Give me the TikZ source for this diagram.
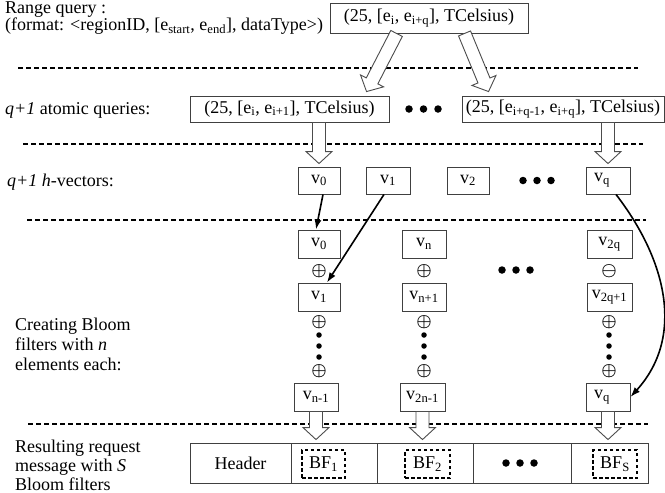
\documentclass[tikz,border=0pt]{standalone}
\usepackage{fontspec}
\setmainfont{Liberation Serif}
\usetikzlibrary{calc,arrows.meta}
\newcommand{\sbt}[1]{\textsubscript{#1}}
\newcommand{\blockarr}[2]{%
  \coordinate (hbA) at (#1);
  \coordinate (hbB) at (#2);
  \coordinate (hbH) at ($(hbB)!12pt!(hbA)$);
  \draw[hollowarr] ($(hbA)!6.5pt!90:(hbB)$) -- ($(hbH)!6.5pt!90:(hbB)$) -- ($(hbH)!13pt!90:(hbB)$) -- (hbB)
     -- ($(hbH)!13pt!-90:(hbB)$) -- ($(hbH)!6.5pt!-90:(hbB)$) -- ($(hbA)!6.5pt!-90:(hbB)$) -- cycle;}
\begin{document}
\begin{tikzpicture}[x=1pt,y=-1pt,
  font=\fontsize{18}{20}\selectfont,
  box/.style={draw=black!75,line width=0.9pt,inner sep=0pt,minimum height=26pt},
  vbox/.style={box,minimum width=42pt,minimum height=28pt},
  bfbox/.style={draw=black,line width=1.4pt,dash pattern=on 3.5pt off 2.5pt,inner sep=0pt,minimum width=43pt,minimum height=28pt},
  cell/.style={draw=black!75,line width=0.9pt,inner sep=0pt,minimum height=40pt},
  sep/.style={draw=black,line width=1.3pt,dash pattern=on 5pt off 3pt},
  hollowarr/.style={draw=black!70,line width=0.9pt,fill=white},
  blk/.style={draw=black,line width=1.6pt,-{Latex[length=10pt,width=7pt]}},
  bigdot/.style={circle,fill=black,inner sep=0pt,minimum size=7.5pt},
  smalldot/.style={circle,fill=black,inner sep=0pt,minimum size=5.5pt},
  opsym/.style={inner sep=0pt,font=\fontsize{17}{17}\selectfont\boldmath},
  lbl/.style={anchor=base west,inner sep=0pt}
]
\useasboundingbox (0,0) rectangle (665,493);
\fill[white] (0,0) rectangle (665,493);

% left labels
\node[lbl] (l1) at (5,13) {Range query :};
\node[lbl] (l2) at (5,30.5) {(format: <regionID, [e\sbt{start}, e\sbt{end}], dataType>)};
\node[lbl] (l3) at (5,114) {\textit{q+1} atomic queries:};
\node[lbl] (l4) at (7,186) {\textit{q+1 h}-vectors:};
\node[lbl] (l5) at (15,330) {Creating Bloom};
\node[lbl] (l6) at (15,350) {filters with \textit{n}};
\node[lbl] (l7) at (15,370) {elements each:};
\node[lbl] (l8) at (15,452) {Resulting request};
\node[lbl] (l9) at (15,471) {message with \textit{S}};
\node[lbl] (l10) at (15,490) {Bloom filters};

% separators
\draw[sep] (18,68) -- (638,68);
\draw[sep] (23,144) -- (643,144);
\draw[sep] (27,220) -- (646,220);
\draw[sep] (28,424) -- (648,424);

% range query
\node[box,minimum width=198pt,minimum height=30pt] (top) at (429,18) {(25, [e\sbt{i}, e\sbt{i+q}], TCelsius)};

% atomic queries
\node[box,minimum width=199pt] (atom1) at (289.5,109) {(25, [e\sbt{i}, e\sbt{i+1}], TCelsius)};
\node[box,minimum width=202pt] (atom2) at (563,109) {(25, [e\sbt{i+q-1}, e\sbt{i+q}], TCelsius)};
\node[bigdot] (ad1) at (409,109) {};
\node[bigdot] (ad2) at (423.5,109) {};
\node[bigdot] (ad3) at (438,109) {};

% h-vectors
\node[vbox,minimum height=27pt] (v0h) at (319,180.5) {v\sbt{0}};
\node[vbox,minimum height=27pt,minimum width=44pt] (v1h) at (388,180.5) {v\sbt{1}};
\node[vbox,minimum height=27pt] (v2h) at (468,180.5) {v\sbt{2}};
\node[vbox,minimum height=27pt,minimum width=44pt] (vqh) at (608,180.5) {v\sbt{q}\hspace*{12pt}};
\node[bigdot] (hd1) at (523,180.5) {};
\node[bigdot] (hd2) at (537,180.5) {};
\node[bigdot] (hd3) at (551,180.5) {};

% Bloom filter columns
\node[vbox] (c1a) at (319,244) {v\sbt{0}};
\node[vbox] (c1b) at (319,297) {v\sbt{1}};
\node[vbox,minimum width=44pt] (c1c) at (316,397) {v\sbt{n-1}};
\node[vbox,minimum width=44pt] (c2a) at (424,244) {v\sbt{n}};
\node[vbox,minimum width=44pt] (c2b) at (424,297) {v\sbt{n+1}};
\node[vbox,minimum width=45pt] (c2c) at (422.5,397) {v\sbt{2n-1}};
\node[vbox,minimum width=45pt] (c3a) at (609.5,244) {v\sbt{2q}};
\node[vbox,minimum width=45pt] (c3b) at (609.5,297) {v\sbt{2q+1}};
\node[vbox,minimum width=44pt] (c3c) at (608,397) {v\sbt{q}\hspace*{12pt}};

\foreach \cx/\nm/\first in {319/p1/$\oplus$, 424/p2/$\oplus$, 609/p3/$\ominus$}{
  \node[opsym] (\nm a) at (\cx,271) {\first};
  \node[opsym] (\nm b) at (\cx,322) {$\oplus$};
  \node[smalldot] (\nm d1) at (\cx,335) {};
  \node[smalldot] (\nm d2) at (\cx,346) {};
  \node[smalldot] (\nm d3) at (\cx,357) {};
  \node[opsym] (\nm c) at (\cx,371) {$\oplus$};
}
\node[bigdot] (md1) at (502,270) {};
\node[bigdot] (md2) at (516,270) {};
\node[bigdot] (md3) at (530,270) {};

% request message
\node[cell,minimum width=101pt] (hdr) at (240.5,463) {Header};
\node[cell,minimum width=86pt] (cbf1) at (334,463) {};
\node[cell,minimum width=96pt] (cbf2) at (425,463) {};
\node[cell,minimum width=98pt] (cdot) at (522,463) {};
\node[cell,minimum width=77pt] (cbfs) at (609.5,463) {};
\node[bfbox] (bf1) at (323.5,464) {BF\sbt{1}};
\node[bfbox,minimum width=45pt] (bf2) at (427.5,464) {BF\sbt{2}};
\node[bfbox,minimum width=44pt] (bfs) at (615,464) {BF\sbt{S}};
\node[bigdot] (bd1) at (506,463) {};
\node[bigdot] (bd2) at (520,463) {};
\node[bigdot] (bd3) at (534,463) {};

% hollow arrows
\coordinate (t1s) at ($(top.south west)+(67,0)$);
\coordinate (t1e) at ($(atom1.north west)+(177,-4)$);
\coordinate (t2s) at ($(top.south west)+(135,0)$);
\coordinate (t2e) at ($(atom2.north west)+(27,-4)$);
\blockarr{t1s}{t1e}
\blockarr{t2s}{t2e}
\coordinate (a1e) at ($(v0h.north)+(0,-3)$);
\coordinate (a2e) at ($(vqh.north)+(0,-3)$);
\blockarr{v0h |- atom1.south}{a1e}
\blockarr{vqh |- atom2.south}{a2e}
\coordinate (b1e) at ($(c1c.south |- hdr.north)+(0,-3)$);
\coordinate (b2e) at ($(c2c.south |- hdr.north)+(0,-3)$);
\coordinate (b3e) at ($(c3c.south |- hdr.north)+(0,-3)$);
\blockarr{c1c.south}{b1e}
\blockarr{c2c.south}{b2e}
\blockarr{c3c.south}{b3e}

% black arrows
\draw[blk] ($(v0h.south)+(4,0)$) -- ($(c1a.north)+(-3,0)$);
\draw[blk] ($(v1h.south)+(-4,0)$) -- ($(c1b.north)+(8,0)$);
\draw[blk] ($(vqh.south)+(8,0)$) .. controls (668,262) and (684,338) .. (c3c.east);
\end{tikzpicture}
\end{document}
